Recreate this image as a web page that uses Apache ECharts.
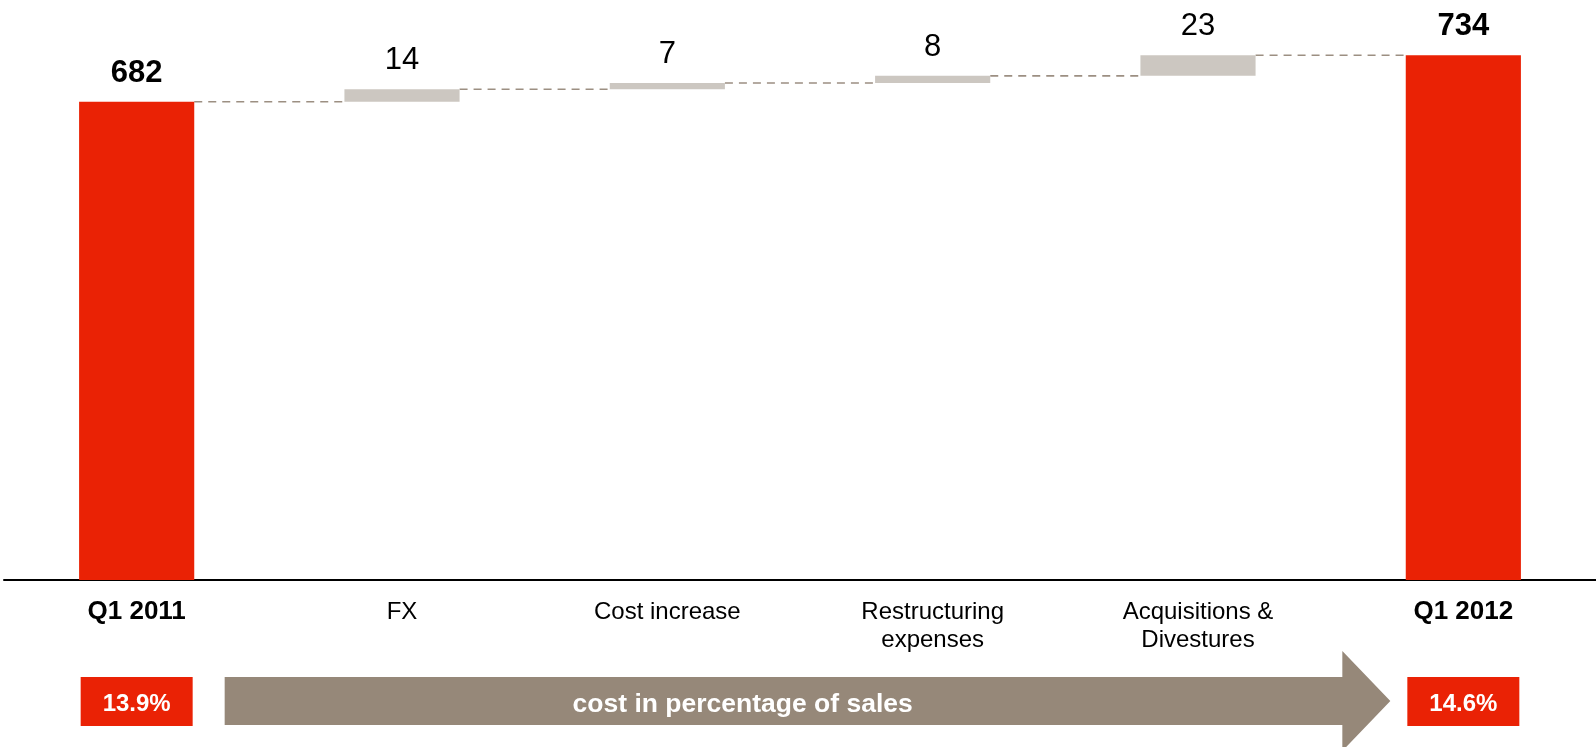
<!DOCTYPE html>
<html>
<head>
<meta charset="utf-8">
<script src="https://cdn.jsdelivr.net/npm/echarts@6/dist/echarts.min.js"></script>
<style>
  html, body { margin: 0; padding: 0; background: #fff; }
  #chart { width: 1596px; height: 747px; }
</style>
</head>
<body>
<div id="chart"></div>
<script>
// Cost bridge: Q1 2011 -> Q1 2012
const categories = ['Q1 2011', 'FX', 'Cost increase', 'Restructuring\nexpenses', 'Acquisitions &\nDivestures', 'Q1 2012'];
const startTotal = 682;
const changes = [14, 7, 8, 23];
const endTotal = 734;
const costShare = ['13.9%', '14.6%'];
const arrowText = 'cost in percentage of sales';

const RED = '#EA2205';
const STEP = '#CCC7C1';
const BROWN = '#968879';
const DASH = '#9C8F82';
const FONT = "'Liberation Sans', Arial, Helvetica, sans-serif";
const BAR_RATIO = 0.434;

// running level each step starts from: 682, 696, 703, 711, 734
const levels = [startTotal];
changes.forEach(c => levels.push(levels[levels.length - 1] + c));

// invisible base under each step bar
const baseData = [0].concat(levels.slice(0, changes.length), [0]);
const shownValues = [startTotal].concat(changes, [endTotal]);
const valueData = shownValues.map((v, i) => {
  const total = i === 0 || i === shownValues.length - 1;
  return {
    value: v,
    itemStyle: { color: total ? RED : STEP },
    label: { fontWeight: total ? 'bold' : 'normal' }
  };
});
// dashed connectors: from bar i to bar i+1 at the running level
const connectorData = levels.map((lv, i) => [i, lv]);

const chart = echarts.init(document.getElementById('chart'), null, { renderer: 'canvas' });

chart.setOption({
  animation: false,
  backgroundColor: '#fff',
  textStyle: { fontFamily: FONT },
  grid: { left: 4, right: 0, top: 41, bottom: 167 },
  xAxis: {
    type: 'category',
    data: categories,
    axisLine: { show: true, lineStyle: { color: '#000', width: 2 } },
    axisTick: { show: false },
    axisLabel: {
      interval: 0,
      margin: 18,
      color: '#000',
      fontFamily: FONT,
      fontSize: 24,
      lineHeight: 28,
      formatter: (v, i) => (i === 0 || i === categories.length - 1) ? '{t|' + v + '}' : v,
      rich: {
        t: { fontFamily: FONT, fontSize: 26, fontWeight: 'bold', lineHeight: 28, color: '#000' }
      }
    }
  },
  yAxis: {
    type: 'value',
    min: 147,
    max: 750,
    show: false,
    splitLine: { show: false }
  },
  series: [
    {
      type: 'bar',
      stack: 'bridge',
      barWidth: (BAR_RATIO * 100) + '%',
      data: baseData,
      itemStyle: { color: 'transparent' },
      emphasis: { disabled: true },
      silent: true
    },
    {
      type: 'bar',
      stack: 'bridge',
      barWidth: (BAR_RATIO * 100) + '%',
      data: valueData,
      label: {
        show: true,
        position: 'top',
        distance: 13,
        color: '#000',
        fontFamily: FONT,
        fontSize: 31,
        formatter: p => String(shownValues[p.dataIndex])
      }
    },
    {
      type: 'custom',
      data: connectorData,
      encode: { x: 0, y: 1 },
      silent: true,
      z: 1,
      renderItem: (params, api) => {
        const p = api.coord([api.value(0), api.value(1)]);
        const band = api.size([1, 0])[0];
        const half = band * BAR_RATIO / 2;
        return {
          type: 'line',
          shape: { x1: p[0] + half, y1: p[1], x2: p[0] + band - half, y2: p[1] },
          style: { stroke: DASH, lineWidth: 1.6, lineDash: [8, 6] }
        };
      }
    }
  ]
});

// Cost-share boxes and arrow under the axis, placed from the category positions
const xs = categories.map((_, i) => chart.convertToPixel({ xAxisIndex: 0 }, i));
const first = xs[0], last = xs[xs.length - 1];
const boxTop = 677, boxH = 49, boxW = 112;
const x0 = first + 88, xb = last - 121, xt = last - 73;

const graphics = [
  {
    type: 'polygon',
    shape: {
      points: [[x0, 677], [xb, 677], [xb, 651], [xt, 701], [xb, 751], [xb, 725], [x0, 725]]
    },
    style: { fill: BROWN }
  },
  {
    type: 'text',
    x: x0 + 518,
    y: 705,
    style: {
      text: arrowText,
      fill: '#fff',
      font: 'bold 26.5px ' + FONT,
      textAlign: 'center',
      textVerticalAlign: 'middle'
    }
  }
];
[first, last].forEach((cx, k) => {
  graphics.push({
    type: 'rect',
    shape: { x: cx - boxW / 2, y: boxTop, width: boxW, height: boxH },
    style: { fill: RED }
  });
  graphics.push({
    type: 'text',
    x: cx,
    y: boxTop + boxH / 2 + 3,
    style: {
      text: costShare[k],
      fill: '#fff',
      font: 'bold 24px ' + FONT,
      textAlign: 'center',
      textVerticalAlign: 'middle'
    }
  });
});
chart.setOption({ graphic: graphics });
</script>
</body>
</html>
